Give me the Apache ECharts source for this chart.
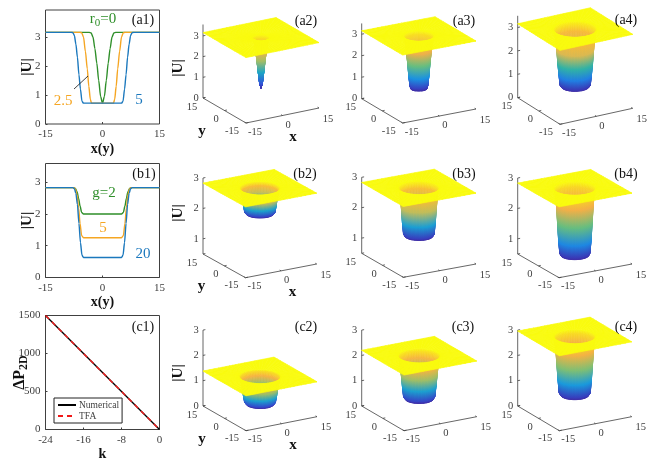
<!DOCTYPE html>
<html>
<head>
<meta charset="utf-8">
<style>
  html, body { margin: 0; padding: 0; background: #fff; }
  #main { width: 664px; height: 466px; }
</style>
<script src="https://cdn.jsdelivr.net/npm/echarts@6/dist/echarts.min.js"></script>
</head>
<body>
<div id="main"></div>
<script>
var rA0 = [0, 0.5, 1, 1.5, 2, 2.5, 3, 3.5, 15];
var uA0 = [0.72, 0.95, 1.5, 2.1, 2.6, 3.0, 3.14, 3.16, 3.16];
var rA25 = [0, 2.9, 3.2, 3.6, 4, 4.5, 5, 5.5, 6, 15];
var uA25 = [0.72, 0.72, 0.85, 1.3, 1.9, 2.5, 3.0, 3.15, 3.16, 3.16];
var rA5 = [0, 5, 5.4, 5.8, 6.2, 6.6, 7, 7.4, 7.8, 8.2, 15];
var uA5 = [0.72, 0.72, 0.78, 1.2, 1.7, 2.3, 2.75, 3.05, 3.15, 3.16, 3.16];

var rB2 = [0, 5, 5.5, 5.9, 6.3, 6.7, 7.1, 7.5, 15];
var uB2 = [2.0, 2.0, 2.05, 2.25, 2.5, 2.7, 2.8, 2.83, 2.83];
var rB5 = [0, 5, 5.5, 5.9, 6.3, 6.7, 7.1, 7.5, 15];
var uB5 = [1.25, 1.25, 1.32, 1.7, 2.2, 2.6, 2.78, 2.83, 2.83];
var rB20 = [0, 5, 5.4, 5.8, 6.2, 6.6, 7, 7.4, 7.8, 15];
var uB20 = [0.63, 0.63, 0.7, 1.1, 1.7, 2.3, 2.65, 2.8, 2.83, 2.83];

// surfaces of the last row
var rC = [0, 5, 5.6, 6, 6.4, 6.8, 7.2, 7.6, 15];
var uC2 = [0.3, 0.3, 0.38, 0.62, 0.9, 1.15, 1.3, 1.37, 1.38];
var uC3 = [0.5, 0.5, 0.6, 1.0, 1.45, 1.85, 2.1, 2.19, 2.2];
var uC4 = [0.65, 0.65, 0.75, 1.25, 1.85, 2.45, 2.8, 2.95, 2.96];

// panel c1
var kValues = [-24, -20, -16, -12, -8, -4, 0];
var powerNumerical = [1500, 1250, 1000, 750, 500, 250, 0];
var powerTFA = [1500, 1250, 1000, 750, 500, 250, 0];

var xyTicks = [-15, 0, 15];

var serif = '"Liberation Serif", "Times New Roman", serif';
var grey = "#404040";
var blue = "#1b78bd";
var orange = "#f5a623";
var green = "#2f8f2a";
var parula = ["#3d2ea8", "#2a60e8", "#1898e0", "#20b0b0", "#70c078", "#d8bc50", "#f4ae48", "#f8c030", "#f9fb0e"];

// -r..r line from a half profile
function mirror(r, u) {
  var out = [];
  for (var i = r.length - 1; i > 0; i--) out.push([-r[i], u[i]]);
  for (var j = 0; j < r.length; j++) out.push([r[j], u[j]]);
  return out;
}

function linePanel(index, left, top, yMax, yTicks, yInterval, xMin, xMax, xInterval, xName, yName, yGap) {
  grids.push({ left: left, top: top, width: 114, height: 114, show: true, borderColor: grey, borderWidth: 1, backgroundColor: "transparent" });
  var labelStyle = {
    color: grey, fontFamily: serif, fontSize: 11, margin: 5,
    formatter: function (v) { return String(v); }
  };
  xAxes.push({
    gridIndex: index, type: "value", min: xMin, max: xMax, interval: xInterval,
    name: xName, nameLocation: "middle", nameGap: 18, nameMoveOverlap: false,
    nameTextStyle: { color: "#111", fontFamily: serif, fontSize: 14, fontWeight: "bold" },
    axisLine: { show: false, onZero: false },
    axisTick: { inside: true, length: 2, lineStyle: { color: grey } },
    axisLabel: labelStyle, splitLine: { show: false }
  });
  yAxes.push({
    gridIndex: index, type: "value", min: 0, max: yMax, interval: yInterval, position: "left",
    name: yName, nameLocation: "middle", nameGap: yGap, nameMoveOverlap: false,
    nameTextStyle: {
      color: "#111", fontFamily: serif, fontSize: 15, fontWeight: "bold",
      rich: {
        b: { fontFamily: serif, fontSize: 16, fontWeight: "bold", color: "#111" },
        s: { fontFamily: serif, fontSize: 12, fontWeight: "bold", color: "#111", verticalAlign: "bottom", padding: [7, 0, 0, 0] }
      }
    },
    axisLine: { show: false, onZero: false },
    axisTick: { inside: true, length: 2, lineStyle: { color: grey }, customValues: yTicks },
    axisLabel: Object.assign({ customValues: yTicks }, labelStyle), splitLine: { show: false }
  });
}

function addLine(index, name, points, color, extra) {
  series.push(Object.assign({
    type: "line", name: name, xAxisIndex: index, yAxisIndex: index, data: points,
    symbol: "none", silent: true, animation: false, smooth: 0.25, smoothMonotone: "x",
    lineStyle: { color: color, width: 1.4 }, itemStyle: { color: color }
  }, extra || {}));
}

var grids = [], xAxes = [], yAxes = [], series = [];

linePanel(0, 45.5, 10, 3.93, [0, 1, 2, 3], 1, -15, 15, 15, "x(y)", "|U|", 11);
linePanel(1, 45.5, 163.5, 3.59, [0, 1, 2, 3], 1, -15, 15, 15, "x(y)", "|U|", 11);
linePanel(2, 45.5, 315.5, 1500, [0, 500, 1000, 1500], 500, -24, 0, 8, "k", "{b|ΔP}{s|2D}", 16);

addLine(0, "r0=0", mirror(rA0, uA0), green);
addLine(0, "2.5", mirror(rA25, uA25), orange);
addLine(0, "5", mirror(rA5, uA5), blue);
addLine(1, "g=2", mirror(rB2, uB2), green);
addLine(1, "g=5", mirror(rB5, uB5), orange);
addLine(1, "g=20", mirror(rB20, uB20), blue);

function zip(a, b) {
  return a.map(function (v, i) { return [v, b[i]]; });
}
addLine(2, "Numerical", zip(kValues, powerNumerical), "#000", { smooth: false });
addLine(2, "TFA", zip(kValues, powerTFA), "#f01818", { smooth: false, lineStyle: { color: "#f01818", width: 1.4, type: [5, 4] } });

// 3D panels: three corners of the floor in pixels, the rest goes through the grid's axes
var panels = [
  { title: "(a2)", tx: 306, ty: 21, left: [203, 98], bottom: [246, 123], right: [319, 108], scale: 20.7, zMin: 0, zTop: 3.55, zTicks: [0, 1, 2, 3], r: rA0, u: uA0, labelled: true, uDy: -30 },
  { title: "(a3)", tx: 464, ty: 21, left: [361.7, 98.7], bottom: [402.7, 123], right: [476, 109], scale: 21.5, zMin: 0, zTop: 3.5, zTicks: [0, 1, 2, 3], r: rA25, u: uA25 },
  { title: "(a4)", tx: 626, ty: 20, left: [517.7, 97.7], bottom: [560, 124.3], right: [632.7, 108.3], scale: 23.4, zMin: 0, zTop: 3.5, zTicks: [0, 1, 2, 3], r: rA5, u: uA5 },
  { title: "(b2)", tx: 305, ty: 174, left: [203, 254], bottom: [245.5, 277.7], right: [316.7, 264], scale: 30.4, zMin: 0.5, zTop: 3, zTicks: [1, 2, 3], r: rB2, u: uB2, labelled: true, uDy: -41 },
  { title: "(b3)", tx: 464, ty: 174, left: [361.7, 253.3], bottom: [403.3, 277.3], right: [476, 264], scale: 30.4, zMin: 0.5, zTop: 3, zTicks: [1, 2, 3], r: rB5, u: uB5 },
  { title: "(b4)", tx: 626, ty: 174, left: [517.7, 254], bottom: [559, 277.7], right: [632, 264], scale: 30.4, zMin: 0.5, zTop: 3, zTicks: [1, 2, 3], r: rB20, u: uB20 },
  { title: "(c2)", tx: 306, ty: 327, left: [203, 406], bottom: [246, 430.7], right: [317, 416.7], scale: 25.3, zMin: 0, zTop: 3, zTicks: [0, 1, 2, 3], r: rC, u: uC2, labelled: true, uDy: -33 },
  { title: "(c3)", tx: 463, ty: 327, left: [361.7, 406], bottom: [404, 430.7], right: [476.7, 416.7], scale: 25.3, zMin: 0, zTop: 3, zTicks: [0, 1, 2, 3], r: rC, u: uC3 },
  { title: "(c4)", tx: 626, ty: 327, left: [517.7, 406], bottom: [559.3, 430.7], right: [631.7, 416.7], scale: 25.3, zMin: 0, zTop: 3, zTicks: [0, 1, 2, 3], r: rC, u: uC4 }
];

// (x, y, z) to the panel's hidden 0..1 axes
function projector(p) {
  var w = p.right[0] - p.left[0];
  var topY = p.left[1] - (p.zTop - p.zMin) * p.scale;
  var h = p.bottom[1] - topY;
  var bu = (p.bottom[0] - p.left[0]) / w;
  var rv = (p.bottom[1] - p.right[1]) / h;
  var lv = (p.bottom[1] - p.left[1]) / h;
  return function (x, y, z) {
    var s = (x + 15) / 30, t = (y + 15) / 30;
    return [bu + s * (1 - bu) - t * bu, s * rv + t * lv + (z - p.zMin) * p.scale / h];
  };
}

function framePieces(p, proj) {
  var out = [], z0 = p.zMin;
  function line(a, b) { out.push({ a: proj(a[0], a[1], a[2]), b: proj(b[0], b[1], b[2]) }); }
  function text(at, dx, dy, str, font, rot) {
    out.push({ a: proj(at[0], at[1], at[2]), dx: dx, dy: dy, text: str, font: font, rot: rot });
  }
  var tickFont = "10.5px " + serif, nameFont = "bold 15px " + serif;
  line([-15, 15, z0], [-15, 15, p.zTop]);
  line([-15, 15, z0], [-15, -15, z0]);
  line([-15, -15, z0], [15, -15, z0]);
  p.zTicks.forEach(function (z) {
    line([-15, 15, z], [-14, 15, z]);
    text([-15, 15, z], -7, 0, String(z), tickFont);
  });
  xyTicks.forEach(function (v, i) {
    line([v, -15, z0], [v, -14, z0]);
    line([-15, v, z0], [-14, v, z0]);
    text([v, -15, z0], [9, 5.5, 9][i], [9, 9.5, 11][i], String(v), tickFont);
    text([-15, v, z0], [-14, -8.5, -11][i], [8, 8.5, 9][i], String(v), tickFont);
  });
  if (p.labelled) {
    text([-15, -15, z0], 47, 14, "x", nameFont);
    text([-15, -15, z0], -44, 8, "y", nameFont);
    text([-15, 15, z0], -25, p.uDy, "|U|", nameFont, Math.PI / 2);
  }
  return out;
}

var sectors = 72;

// quads between profile rings, far ones first so that near ones paint over them
function wellCells(p, proj) {
  var zLow = Math.min.apply(null, p.u), zHigh = Math.max.apply(null, p.u);
  var n = p.r.length - 1, cells = [];
  for (var i = 0; i < n - 1; i++) {
    for (var j = 0; j < sectors; j++) {
      var a = (j / sectors) * 2 * Math.PI, b = ((j + 1) / sectors) * 2 * Math.PI;
      var r1 = p.r[i], r2 = p.r[i + 1], z1 = p.u[i], z2 = p.u[i + 1];
      var q = [
        [r1 * Math.cos(a), r1 * Math.sin(a), z1], [r2 * Math.cos(a), r2 * Math.sin(a), z2],
        [r2 * Math.cos(b), r2 * Math.sin(b), z2], [r1 * Math.cos(b), r1 * Math.sin(b), z1]
      ];
      var depth = q[0][0] + q[0][1] + q[1][0] + q[1][1] + q[2][0] + q[2][1] + q[3][0] + q[3][1];
      var pts = q.map(function (c) { return proj(c[0], c[1], c[2]); });
      cells.push({ depth: depth, pts: pts, hi: (z2 - zLow) / (zHigh - zLow), lo: (z1 - zLow) / (zHigh - zLow) });
    }
  }
  cells.sort(function (c, d) { return d.depth - c.depth; });
  return cells;
}

// the flat sheet, from the rim out to the square edge
function sheetCells(p, proj) {
  var n = p.r.length - 1, rim = p.r[n - 1], z = p.u[n], cells = [];
  function edge(a) {
    var c = Math.cos(a), s = Math.sin(a), k = 15 / Math.max(Math.abs(c), Math.abs(s));
    return [k * c, k * s];
  }
  for (var j = 0; j < sectors; j++) {
    var a = (j / sectors) * 2 * Math.PI, b = ((j + 1) / sectors) * 2 * Math.PI;
    var e1 = edge(a), e2 = edge(b);
    cells.push({
      pts: [
        proj(rim * Math.cos(a), rim * Math.sin(a), z), proj(e1[0], e1[1], z),
        proj(e2[0], e2[1], z), proj(rim * Math.cos(b), rim * Math.sin(b), z)
      ],
      hi: 1, lo: 1
    });
  }
  return cells;
}

panels.forEach(function (p, k) {
  var index = k + 3;
  var proj = projector(p);
  var topY = p.left[1] - (p.zTop - p.zMin) * p.scale;
  grids.push({ left: p.left[0], top: topY, width: p.right[0] - p.left[0], height: p.bottom[1] - topY, show: false });
  xAxes.push({ gridIndex: index, type: "value", min: 0, max: 1, show: false });
  yAxes.push({ gridIndex: index, type: "value", min: 0, max: 1, show: false });

  var pieces = framePieces(p, proj);
  series.push({
    type: "custom", coordinateSystem: "cartesian2d", xAxisIndex: index, yAxisIndex: index,
    animation: false, silent: true, clip: false, progressive: 0,
    data: pieces.map(function (f) { return f.a; }),
    renderItem: function (params, api) {
      var f = pieces[params.dataIndex];
      var a = api.coord(f.a);
      if (f.text !== undefined) {
        return {
          type: "text", x: a[0] + f.dx, y: a[1] + f.dy, rotation: f.rot || 0,
          style: { text: f.text, font: f.font, fill: f.rot || f.font.indexOf("bold") === 0 ? "#111" : grey, align: "center", verticalAlign: "middle" }
        };
      }
      var b = api.coord(f.b);
      return { type: "line", shape: { x1: a[0], y1: a[1], x2: b[0], y2: b[1] }, style: { stroke: grey, lineWidth: 0.8 } };
    }
  });

  var cells = wellCells(p, proj).concat(sheetCells(p, proj));
  series.push({
    type: "custom", coordinateSystem: "cartesian2d", xAxisIndex: index, yAxisIndex: index,
    animation: false, silent: true, clip: false, progressive: 0,
    data: cells.map(function (c) { return c.pts[0]; }),
    renderItem: function (params, api) {
      var c = cells[params.dataIndex];
      var px = c.pts.map(function (q) { return api.coord(q); });
      var fill = echarts.color.lerp(c.hi, parula);
      if (c.hi !== c.lo) {
        // gradient runs down the wall: from the mid of the upper edge to the mid of the lower edge
        fill = new echarts.graphic.LinearGradient(
          (px[1][0] + px[2][0]) / 2, (px[1][1] + px[2][1]) / 2,
          (px[0][0] + px[3][0]) / 2, (px[0][1] + px[3][1]) / 2,
          [{ offset: 0, color: echarts.color.lerp(c.hi, parula) }, { offset: 1, color: echarts.color.lerp(c.lo, parula) }],
          true
        );
      }
      return { type: "polygon", shape: { points: px }, style: { fill: fill, stroke: fill, lineWidth: 0.7 } };
    }
  });
});

function label(x, y, text, color, size, rich) {
  return {
    type: "text", x: x, y: y, silent: true, z: 100,
    style: { text: text, fill: color, font: size + "px " + serif, align: "center", verticalAlign: "middle", rich: rich }
  };
}

var titleItems = [label(143, 20, "(a1)", "#111", 14), label(144, 174, "(b1)", "#111", 14), label(143, 327, "(c1)", "#111", 14)];
panels.forEach(function (p) { titleItems.push(label(p.tx, p.ty, p.title, "#111", 14)); });

var curveItems = [
  label(103, 19, "{a|r}{b|0}{a|=0}", green, 15, {
    a: { fontFamily: serif, fontSize: 15, fill: green, color: green },
    b: { fontFamily: serif, fontSize: 11, fill: green, color: green, verticalAlign: "bottom", padding: [8, 0, 0, 0] }
  }),
  label(63, 101, "2.5", orange, 15),
  label(139, 100, "5", blue, 15),
  label(104, 193, "g=2", green, 15),
  label(103, 228, "5", orange, 15),
  label(143, 254, "20", blue, 15),
  { type: "line", silent: true, z: 100, shape: { x1: 74, y1: 89, x2: 88, y2: 76 }, style: { stroke: "#111", lineWidth: 0.8 } }
];

var myChart = echarts.init(document.getElementById("main"), null, { renderer: "canvas" });
myChart.setOption({
  animation: false,
  backgroundColor: "#fff",
  grid: grids,
  xAxis: xAxes,
  yAxis: yAxes,
  legend: {
    data: ["Numerical", "TFA"], orient: "vertical", left: 54, top: 398, padding: [2, 3, 2, 3], itemGap: 1,
    itemWidth: 18, itemHeight: 8, borderColor: "#222", borderWidth: 1, backgroundColor: "#fff",
    itemStyle: { opacity: 0 },
    selectedMode: false, textStyle: { fontFamily: serif, fontSize: 9.5, color: grey, padding: [0, 0, 0, -2] }
  },
  series: series,
  graphic: titleItems.concat(curveItems)
});
</script>
</body>
</html>
